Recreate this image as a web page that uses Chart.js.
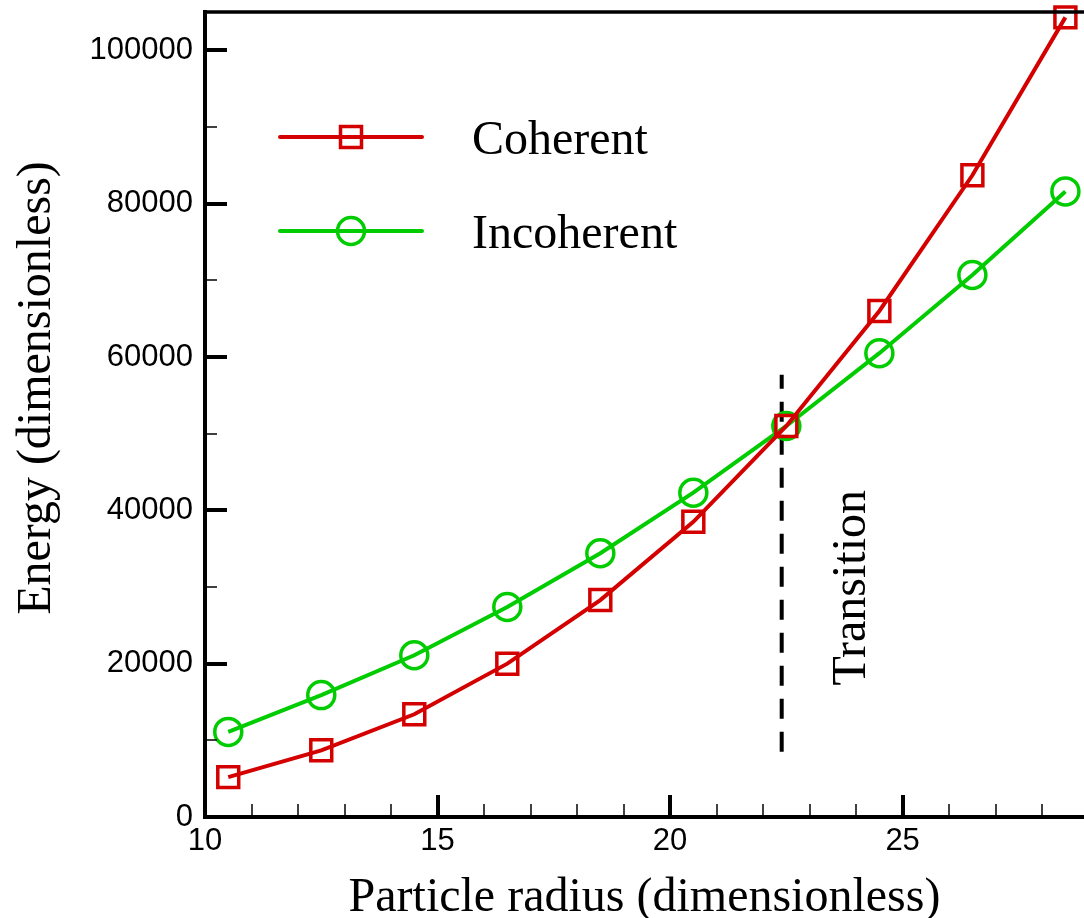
<!DOCTYPE html>
<html>
<head>
<meta charset="utf-8">
<title>Energy vs particle radius</title>
<script src="https://cdn.jsdelivr.net/npm/chart.js@4.4.1/dist/chart.umd.min.js"></script>
<style>
    html, body { margin: 0; padding: 0; background: #fff; }
    #wrap { width: 1084px; height: 918px; }
</style>
</head>
<body>
<div id="wrap"><canvas id="energy" width="1084" height="918"></canvas></div>
<script>
// Energy vs particle radius
// -----------------------------------

var radius = [10.5, 12.5, 14.5, 16.5, 18.5, 20.5, 22.5, 24.5, 26.5, 28.5];
var coherent = [5200, 8700, 13400, 20000, 28300, 38500, 51000, 66000, 83700, 104300];
var incoherent = [11100, 15900, 21100, 27400, 34400, 42300, 51000, 60500, 70700, 81600];

var xTicks = [10, 15, 20, 25];
var yTicks = [0, 20000, 40000, 60000, 80000, 100000];

var transitionX = 22.4;
var transitionY = [8500, 57700];
var transitionText = 'Transition';

var RED = '#d40000';
var GREEN = '#00cc00';
var SERIF = '"Liberation Serif", "Times New Roman", serif';
var SANS = '"Liberation Sans", Arial, sans-serif';

// minor tick positions (every unit / every 10000)
var xMinor = [];
for (var i = 10; i <= 28; i++) xMinor.push(i);
var yMinor = [];
for (var j = 0; j <= 100000; j += 10000) yMinor.push(j);

function toPoints(xs, ys) {
    return xs.map(function(x, k) { return { x: x, y: ys[k] }; });
}

function marker(ctx, style, x, y, color) {
    ctx.save();
    ctx.strokeStyle = color;
    ctx.lineWidth = 3.5;
    ctx.beginPath();
    if (style === 'rect') {
        ctx.rect(x - 10.5, y - 10.5, 21, 21);
    } else {
        ctx.arc(x, y, 13.5, 0, Math.PI * 2);
    }
    ctx.stroke();
    ctx.restore();
}

/*-----------------frame, ticks, legend, labels-----------------*/
var decorations = {
    id: 'decorations',
    afterDraw: function(chart) {
        var ctx = chart.ctx;
        var area = chart.chartArea;
        var xs = chart.scales.x;
        var ys = chart.scales.y;

        ctx.save();
        ctx.strokeStyle = '#000';
        ctx.lineCap = 'butt';

        // top border
        ctx.lineWidth = 3.5;
        ctx.beginPath();
        ctx.moveTo(area.left - 2, area.top);
        ctx.lineTo(area.right, area.top);
        ctx.stroke();

        // x ticks, pointing inward
        xMinor.forEach(function(v) {
            var major = xTicks.indexOf(v) >= 0;
            var px = Math.round(xs.getPixelForValue(v));
            ctx.lineWidth = major ? 4 : 1.5;
            ctx.beginPath();
            ctx.moveTo(px, area.bottom);
            ctx.lineTo(px, area.bottom - (major ? 22 : 13));
            ctx.stroke();
        });

        // y ticks, pointing inward
        yMinor.forEach(function(v) {
            var major = yTicks.indexOf(v) >= 0;
            var py = Math.round(ys.getPixelForValue(v));
            ctx.lineWidth = major ? 4 : 1.5;
            ctx.beginPath();
            ctx.moveTo(area.left, py);
            ctx.lineTo(area.left + (major ? 22 : 12), py);
            ctx.stroke();
        });

        // axis titles
        ctx.fillStyle = '#000';
        ctx.font = '48px ' + SERIF;
        ctx.textAlign = 'center';
        ctx.textBaseline = 'alphabetic';
        ctx.fillText('Particle radius (dimensionless)', (area.left + area.right) / 2, 911);

        ctx.save();
        ctx.translate(50, 388);
        ctx.rotate(-Math.PI / 2);
        ctx.fillText('Energy (dimensionless)', 0, 0);
        ctx.restore();

        // transition label
        ctx.save();
        ctx.translate(xs.getPixelForValue(24.2), ys.getPixelForValue(29900));
        ctx.rotate(-Math.PI / 2);
        ctx.fillText(transitionText, 0, 0);
        ctx.restore();

        // legend
        var legendRows = [137, 231];
        [0, 1].forEach(function(k) {
            var ds = chart.data.datasets[k];
            var ly = legendRows[k];
            ctx.strokeStyle = ds.borderColor;
            ctx.lineWidth = 4;
            ctx.lineCap = 'round';
            ctx.beginPath();
            ctx.moveTo(280, ly);
            ctx.lineTo(422, ly);
            ctx.stroke();
            marker(ctx, ds.pointStyle, 351, ly, ds.borderColor);
            ctx.fillStyle = '#000';
            ctx.textAlign = 'left';
            ctx.fillText(ds.label, 472, ly + 17);
        });

        ctx.restore();
    }
};

var Energy = new Chart(document.getElementById('energy'), {
    type: 'line',
    data: {
        datasets: [{
            label: 'Coherent',
            data: toPoints(radius, coherent),
            borderColor: RED,
            borderWidth: 4,
            pointStyle: 'rect',
            pointRadius: 14.8,
            pointBorderWidth: 3.5,
            pointBorderColor: RED,
            pointBackgroundColor: 'transparent',
            tension: 0,
            clip: false
        }, {
            label: 'Incoherent',
            data: toPoints(radius, incoherent),
            borderColor: GREEN,
            borderWidth: 4,
            pointStyle: 'circle',
            pointRadius: 13.5,
            pointBorderWidth: 3.5,
            pointBorderColor: GREEN,
            pointBackgroundColor: 'transparent',
            tension: 0,
            clip: false
        }, {
            label: 'Transition',
            data: [{ x: transitionX, y: transitionY[0] }, { x: transitionX, y: transitionY[1] }],
            borderColor: '#000',
            borderWidth: 4,
            borderDash: [20, 13],
            pointRadius: 0
        }]
    },
    options: {
        responsive: false,
        animation: false,
        devicePixelRatio: 1,
        layout: { autoPadding: false, padding: { top: 12, right: 0, left: 0, bottom: 0 } },
        plugins: {
            legend: { display: false },
            tooltip: { enabled: false }
        },
        scales: {
            x: {
                type: 'linear',
                min: 10,
                max: 28.9,
                afterBuildTicks: function(scale) {
                    scale.ticks = xMinor.map(function(v) { return { value: v }; });
                },
                afterFit: function(scale) {
                    scale.height = 101;
                    scale.paddingLeft = 0;
                    scale.paddingRight = 0;
                },
                grid: { display: false, drawTicks: false },
                border: { display: true, color: '#000', width: 4 },
                ticks: {
                    autoSkip: false,
                    maxRotation: 0,
                    padding: 6,
                    color: '#000',
                    font: { family: SANS, size: 31 },
                    callback: function(v) { return xTicks.indexOf(v) >= 0 ? String(v) : ''; }
                }
            },
            y: {
                type: 'linear',
                min: 0,
                max: 105000,
                afterBuildTicks: function(scale) {
                    scale.ticks = yMinor.map(function(v) { return { value: v }; });
                },
                afterFit: function(scale) {
                    scale.width = 205;
                    scale.paddingTop = 0;
                    scale.paddingBottom = 0;
                },
                grid: { display: false, drawTicks: false },
                border: { display: true, color: '#000', width: 4 },
                ticks: {
                    autoSkip: false,
                    padding: 12,
                    color: '#000',
                    font: { family: SANS, size: 31 },
                    callback: function(v) { return yTicks.indexOf(v) >= 0 ? String(v) : ''; }
                }
            }
        }
    },
    plugins: [decorations]
});
</script>
</body>
</html>
